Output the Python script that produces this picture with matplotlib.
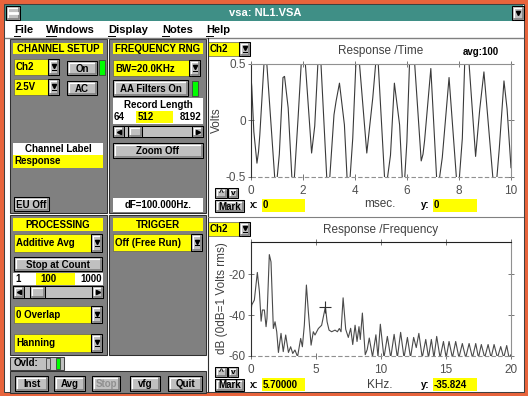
import numpy as np
import matplotlib.pyplot as plt
from matplotlib.patches import Rectangle

plt.rcParams['font.family'] = ['Liberation Sans', 'DejaVu Sans']
plt.rcParams['axes.unicode_minus'] = False

# time record (msec, Volts); values past +-0.5 are clipped by the axes
t_ms = [0.00, 0.04, 0.12, 0.24, 0.30, 0.35, 0.51, 0.56, 0.62, 0.80, 0.92, 0.97, 1.02,
        1.10, 1.24, 1.30, 1.44, 1.58, 1.62, 1.68, 1.82, 1.94, 2.02, 2.10, 2.34, 2.46,
        2.58, 2.64, 2.70, 2.92, 2.98, 3.04, 3.20, 3.28, 3.41, 3.60, 3.70, 3.76, 3.82,
        3.92, 4.04, 4.11, 4.18, 4.46, 4.69, 4.80, 4.85, 4.90, 5.14, 5.20, 5.26, 5.37,
        5.52, 5.72, 5.82, 5.86, 5.92, 6.00, 6.10, 6.20, 6.30, 6.55, 6.62, 6.68, 6.92,
        7.14, 7.20, 7.26, 7.36, 7.62, 7.90, 7.96, 8.02, 8.13, 8.22, 8.30, 8.39, 8.64,
        8.80, 8.96, 9.30, 9.38, 9.46, 9.55, 9.73, 9.85, 10.0]
volts = [0.42, 0.30, -0.10, -0.38, -0.28, -0.13, 0.50, 0.58, 0.50, -0.10, -0.50, -0.58, -0.50,
         -0.30, 0.38, 0.39, 0.11, -0.50, -0.56, -0.50, 0.02, 0.50, 0.60, 0.50, -0.29, -0.05,
         0.50, 0.58, 0.50, -0.50, -0.58, -0.50, 0.05, 0.17, 0.33, -0.04, -0.50, -0.56, -0.50,
         -0.16, 0.50, 0.60, 0.50, -0.29, 0.20, 0.50, 0.56, 0.50, -0.50, -0.58, -0.50, -0.31,
         0.33, -0.04, -0.50, -0.55, -0.50, -0.19, 0.50, 0.62, 0.50, -0.36, -0.30, -0.18, 0.46,
         -0.50, -0.58, -0.50, -0.33, 0.38, -0.50, -0.56, -0.50, -0.16, 0.50, 0.60, 0.50, -0.32,
         0.10, 0.43, -0.50, -0.58, -0.50, -0.25, 0.35, 0.10, -0.42]

# spectrum (KHz, dB re 1 Vrms)
freq_khz = [0.00, 0.08, 0.28, 0.51, 0.67, 0.80, 0.90, 1.05, 1.18, 1.25,
            1.43, 1.56, 1.74, 1.87, 2.00, 2.13, 2.33, 2.50, 2.69, 2.90,
            3.07, 3.23, 3.40, 3.60, 3.84, 3.97, 4.12, 4.28, 4.43, 4.64,
            4.81, 4.94, 5.20, 5.45, 5.61, 5.74, 5.87, 6.02, 6.22, 6.48,
            6.66, 6.81, 6.94, 7.10, 7.30, 7.50, 7.68, 7.84, 8.02, 8.17,
            8.32, 8.42, 8.58, 8.80, 8.95, 9.11, 9.36, 9.62, 9.78, 9.96,
            10.24, 10.50, 10.76, 11.02, 11.27, 11.52, 11.78, 12.04, 12.28, 12.52,
            12.72, 12.92, 13.18, 13.45, 13.66, 13.88, 14.08, 14.29, 14.55, 14.81,
            15.02, 15.24, 15.50, 15.75, 16.00, 16.26, 16.52, 16.78, 17.04, 17.29,
            17.50, 17.72, 17.98, 18.24, 18.47, 18.70, 18.96, 19.21, 19.44, 19.67,
            19.85, 20.0]
level_db = [-40, -35, -32.6, -19, -28.5, -43, -37.5, -37.5, -45.7, -41.6,
            -10.2, -13.8, -46.6, -43.3, -48.2, -58.4, -49, -58, -49.8, -58.4,
            -55.6, -58.9, -57.2, -60.5, -51.5, -55.6, -45, -25.2, -38.4, -54.8,
            -48.2, -49.8, -46.6, -45, -40, -35.9, -43.3, -47.4, -48.2, -47.4,
            -48.2, -46.6, -48.2, -31.5, -47, -51, -46.5, -54.5, -45, -53,
            -45.7, -52, -39, -59.5, -57, -51.3, -60.5, -49.7, -60.5, -44.5,
            -61, -50.5, -61, -49.5, -61, -48.5, -61, -51, -61, -51,
            -56, -49, -61, -52, -61, -52, -61, -50.5, -61, -53,
            -61, -53, -61, -53, -61, -54, -61, -54, -61, -54,
            -61, -54.5, -61, -54.5, -61, -54.5, -61, -55.5, -61, -55,
            -61, -59.5]

mark_x = 5.70
mark_y = -35.824

W, H = 528, 396
fig = plt.figure(figsize=(W / 100, H / 100), dpi=100)
bg = fig.add_axes([0, 0, 1, 1])
bg.set_xlim(0, W)
bg.set_ylim(H, 0)
bg.axis('off')

GRAY = '#c0c0c0'
DARK = '#808080'
YEL = '#ffff00'


def rect(x, y, w, h, fc, ec='none', lw=0.75):
    bg.add_patch(Rectangle((x, y), w, h, facecolor=fc, edgecolor=ec, lw=lw))


def bevel(x, y, w, h):
    rect(x, y, w, h, GRAY, ec='black')
    bg.plot([x + 1.5, x + 1.5, x + w - 1.5], [y + h - 1.5, y + 1.5, y + 1.5], color='white', lw=0.8)
    bg.plot([x + 1.5, x + w - 1.5, x + w - 1.5], [y + h - 1.5, y + h - 1.5, y + 1.5], color=DARK, lw=1.2)


def button(x, y, w, h, label, color='black', fs=7):
    bevel(x, y, w, h)
    bg.text(x + w / 2, y + h / 2 + 0.5, label, ha='center', va='center',
            fontsize=fs, fontweight='bold', color=color)


def combo(x, y, w, h, label, bw=11):
    rect(x, y, w - bw, h, YEL, ec='#606060', lw=0.5)
    bg.text(x + 2, y + h / 2 + 0.5, label, ha='left', va='center', fontsize=7, fontweight='bold')
    bevel(x + w - bw, y, bw, h)
    cx, cy = x + w - bw / 2, y + h / 2
    bg.plot(cx, cy - 1, marker='v', ms=3, color='black')
    bg.plot([cx - 2, cx + 2], [cy + 2.5, cy + 2.5], color='black', lw=0.75)


def header(x, y, w, h, label):
    rect(x, y, w, h, YEL)
    bg.text(x + w / 2, y + h / 2 + 0.5, label, ha='center', va='center', fontsize=7, fontweight='bold')


def led(x, y, w, h, on=True):
    rect(x, y, w, h, '#00ff00' if on else GRAY, ec='#404040', lw=0.6)


def scrollbar(x, y, w, h, tx, tw):
    rect(x, y, w, h, GRAY, ec='black')
    bevel(x, y, 11, h)
    bevel(x + w - 11, y, 11, h)
    bevel(tx, y, tw, h)
    bg.plot(x + 5.5, y + h / 2, marker='<', ms=3, color='black')
    bg.plot(x + w - 5.5, y + h / 2, marker='>', ms=3, color='black')


# window frame, title and menu
rect(0, 0, W, H, '#e8643c')
rect(4, 4, W - 8, H - 8, 'white', ec='#404040')
rect(5, 5, W - 10, 16, '#3f8f86')
bg.text(265, 13.5, 'vsa: NL1.VSA', ha='center', va='center', fontsize=8, fontweight='bold', color='white')
bevel(6, 6, 14, 14)
bg.plot([9, 17], [12.5, 12.5], color='white', lw=2)
bevel(512, 6, 12, 14)
bg.plot(518, 13, marker='v', ms=3, color='black')
bg.plot([5, W - 5], [37.5, 37.5], color=DARK, lw=1)

menu = [('File', 14, 6), ('Windows', 46, 10), ('Display', 108, 7), ('Notes', 162, 7), ('Help', 206, 7)]
for name, mx, uw in menu:
    bg.text(mx, 30, name, ha='left', va='center', fontsize=8, fontweight='bold')
    bg.plot([mx, mx + uw], [35.5, 35.5], color='black', lw=0.7)

# left control panels
for px0, py0, px1, py1 in [(10, 39, 107, 213), (109, 39, 206, 213),
                           (10, 215, 107, 355), (109, 215, 206, 355), (10, 371, 206, 393)]:
    rect(px0, py0, px1 - px0, py1 - py0, DARK, ec='#303030')

header(13, 43, 90, 11, 'CHANNEL SETUP')
combo(14, 59, 45, 16, 'Ch2')
button(67, 61, 30, 14, 'On')
led(99, 60, 6, 15)
combo(14, 79, 45, 16, '2.5V')
button(67, 81, 30, 14, 'AC')
rect(13, 143, 90, 12, 'white')
bg.text(58, 149.5, 'Channel Label', ha='center', va='center', fontsize=7, fontweight='bold')
rect(13, 155, 90, 13, YEL)
bg.text(14, 161.5, 'Response', ha='left', va='center', fontsize=7, fontweight='bold')
button(14, 197, 35, 14, 'EU Off')

header(113, 43, 90, 11, 'FREQUENCY RNG')
combo(113, 60, 87, 16, 'BW=20.0KHz')
button(113, 80, 75, 16, 'AA Filters On')
led(192, 81, 6, 15)
rect(113, 98, 90, 26, 'white')
bg.text(158, 104.5, 'Record Length', ha='center', va='center', fontsize=7, fontweight='bold')
rect(136, 111, 37, 12, YEL)
bg.text(114, 117, '64', ha='left', va='center', fontsize=7, fontweight='bold')
bg.text(138, 117, '512', ha='left', va='center', fontsize=7, fontweight='bold')
bg.text(202, 117, '8192', ha='right', va='center', fontsize=7, fontweight='bold')
scrollbar(113, 126, 90, 11, 128, 14)
button(113, 143, 90, 15, 'Zoom Off')
rect(113, 198, 90, 14, 'white')
bg.text(158, 205, 'dF=100.000Hz.', ha='center', va='center', fontsize=7, fontweight='bold')

header(13, 218, 90, 13, 'PROCESSING')
combo(14, 234, 88, 18, 'Additive Avg')
button(14, 257, 88, 14, 'Stop at Count')
rect(13, 273, 90, 12, 'white')
rect(36, 273, 39, 12, YEL)
bg.text(15, 279, '1', ha='left', va='center', fontsize=7, fontweight='bold')
bg.text(40, 279, '100', ha='left', va='center', fontsize=7, fontweight='bold')
bg.text(102, 279, '1000', ha='right', va='center', fontsize=7, fontweight='bold')
scrollbar(13, 286, 90, 12, 30, 15)
combo(14, 306, 88, 17, '0 Overlap')
combo(14, 334, 88, 18, 'Hanning')

header(113, 218, 90, 13, 'TRIGGER')
combo(113, 234, 89, 17, 'Off (Free Run)')

rect(10, 357, 54, 13, GRAY, ec='#404040')
bg.text(14, 363.5, 'Ovld:', ha='left', va='center', fontsize=7, fontweight='bold')
led(46, 358, 4, 11, on=False)
led(56, 358, 4, 11)

for bx, bw, lab, col in [(15, 33, 'Inst', 'black'), (54, 31, 'Avg', 'black'), (92, 28, 'Stop', '#909090'),
                         (130, 30, 'vfg', 'black'), (168, 34, 'Quit', 'black')]:
    button(bx, 376, bw, 15, lab, color=col)

# right-hand display area
bg.plot([207.5, 207.5], [38, 392], color='#303030', lw=0.8)
bg.plot([207.5, W - 5], [216.5, 216.5], color=DARK, lw=0.8)

for top in (0, 180):
    dy = 1 if top else 0
    combo(208, 42 + top, 42, 14, 'Ch2')
    button(215, 188 + top - dy, 12, 10, '^', fs=6)
    button(228, 188 + top - dy, 10, 10, 'v', fs=6)
    button(215, 200 + top - dy, 29, 12, 'Mark')
    rect(262, 199 + top - dy, 43, 13, YEL)
    rect(433, 199 + top - dy, 44, 13, YEL)
    bg.text(250, 205.5 + top, 'x:', ha='left', va='center', fontsize=7, fontweight='bold')
    bg.text(421, 205.5 + top, 'y:', ha='left', va='center', fontsize=7, fontweight='bold')

bg.text(263, 205.5, '0', ha='left', va='center', fontsize=7, fontweight='bold')
bg.text(434, 205.5, '0', ha='left', va='center', fontsize=7, fontweight='bold')
bg.text(263, 385.5, '5.70000', ha='left', va='center', fontsize=7, fontweight='bold')
bg.text(434, 385.5, '-35.824', ha='left', va='center', fontsize=7, fontweight='bold')

txt = '#404040'
bg.text(381, 51, 'Response /Time', ha='center', va='center', fontsize=8.5, color=txt)
bg.text(481, 52, 'avg:100', ha='center', va='center', fontsize=7, fontweight='bold')
bg.text(217, 120, 'Volts', ha='center', va='center', fontsize=8.5, color=txt, rotation=90)
bg.text(380, 204, 'msec.', ha='center', va='center', fontsize=8.5, color=txt)
bg.text(381, 230, 'Response /Frequency', ha='center', va='center', fontsize=8.5, color=txt)
bg.text(222, 298, 'dB (0dB=1 Volts rms)', ha='center', va='center', fontsize=8.5, color=txt, rotation=90)
bg.text(380, 384.5, 'KHz.', ha='center', va='center', fontsize=8.5, color=txt)


def px_axes(x0, y0, x1, y1):
    return fig.add_axes([x0 / W, 1 - y1 / H, (x1 - x0) / W, (y1 - y0) / H])


def style(ax, pad_x):
    ax.set_facecolor('white')
    ax.tick_params(direction='inout', length=5, width=0.6, color='#606060', labelcolor='#505050',
                   labelsize=8.5, top=True, right=True)
    ax.tick_params(axis='y', pad=1)
    ax.tick_params(axis='x', pad=pad_x)
    ax.spines['bottom'].set_visible(False)
    ax.spines['left'].set_color('#303030')
    ax.spines['right'].set_color('#909090')


ax1 = px_axes(250.7, 64, 511, 176.7)
ax1.plot(t_ms, volts, color='#3a3a3a', lw=0.8)
ax1.set_xlim(0, 10)
ax1.set_ylim(-0.5, 0.5)
ax1.set_xticks([0, 2, 4, 6, 8, 10])
ax1.set_yticks([-0.5, 0, 0.5])
ax1.set_yticklabels(['-0.5', '0', '0.5'])
style(ax1, 3.5)
ax1.spines['top'].set_color('#909090')
ax1.axhline(-0.5, color='#909090', lw=0.8, ls=(0, (4, 2)), clip_on=False)

ax2 = px_axes(250.7, 242, 511, 355.7)
ax2.plot(freq_khz, level_db, color='#4a4a4a', lw=0.8)
ax2.plot(mark_x, mark_y, marker='+', ms=8, mew=0.8, color='#303030')
ax2.set_xlim(0, 20)
ax2.set_ylim(-60, -4)
ax2.set_xticks([0, 5, 10, 15, 20])
ax2.set_yticks([-60, -40, -20])
ax2.set_yticklabels(['-60', '-40', '-20'])
style(ax2, 3.5)
ax2.spines['top'].set_color('#202020')
ax2.axhline(-60, color='#909090', lw=0.8, ls=(0, (4, 2)), clip_on=False)

fig.savefig('out.png', dpi=100)
